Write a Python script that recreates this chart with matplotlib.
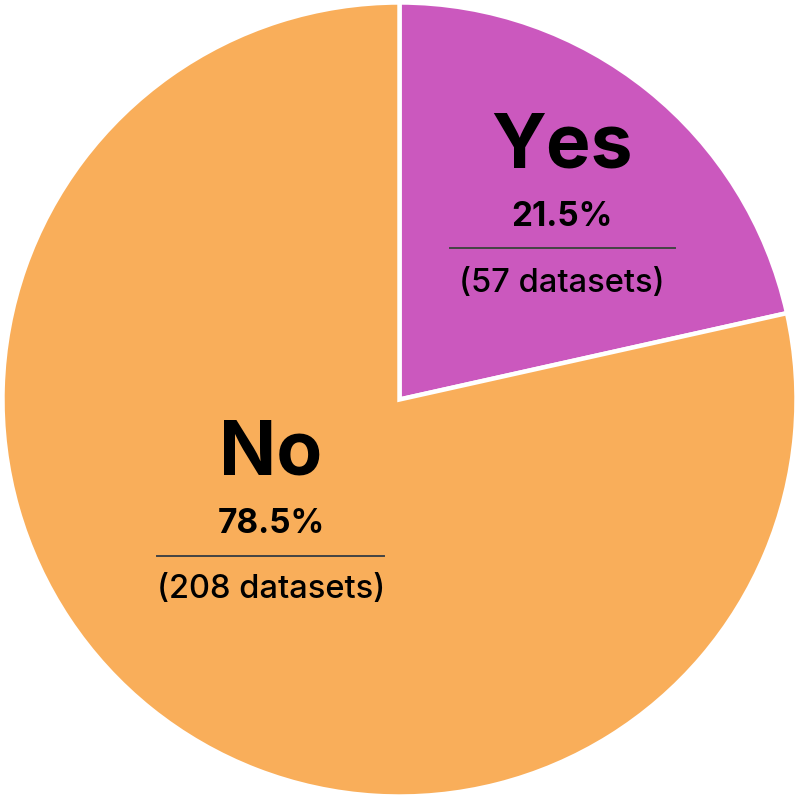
import matplotlib.pyplot as plt

labels = ["Yes", "No"]
counts = [57, 208]
percents = ["21.5%", "78.5%"]
colors = ["#CB58BE", "#F9AE5A"]

W = 797
CX, CY = 399.5, 399.5
R = 397

plt.rcParams["font.family"] = ["Inter", "DejaVu Sans"]

fig = plt.figure(figsize=(W / 100, W / 100), dpi=100)
ax = fig.add_axes([0, 0, 1, 1])
ax.pie(counts, colors=colors, startangle=90, counterclock=False, radius=R,
       center=(0, 0),
       wedgeprops=dict(edgecolor="white", linewidth=3.2))
ax.set_xlim(-CX, W - CX)
ax.set_ylim(-(W - CY), CY)
ax.set_aspect("equal")
ax.axis("off")


def px(x, y):
    return x - CX, CY - y


# label blocks: (center x, title y, pct y, line y, line x0, line x1, count y)
blocks = [
    (562, 148, 217, 248, 450, 675, 283),
    (271, 455, 524, 556, 157, 384, 590),
]

for lab, n, pct, b in zip(labels, counts, percents, blocks):
    cx, ty, py, ly, lx0, lx1, cy = b
    ax.text(*px(cx, ty), lab, ha="center", va="center", fontsize=54,
            fontweight="bold", color="black")
    ax.text(*px(cx, py), pct, ha="center", va="center", fontsize=24,
            fontweight="bold", color="black")
    ax.plot([lx0 - CX, lx1 - CX], [CY - ly, CY - ly], color="#444444", lw=1.4)
    ax.text(*px(cx, cy), f"({n} datasets)", ha="center", va="center",
            fontsize=23.5, fontweight="medium", color="black")

fig.savefig("out.png", dpi=100)
